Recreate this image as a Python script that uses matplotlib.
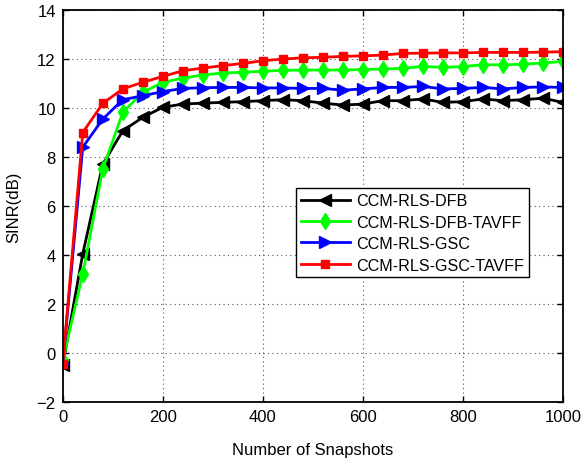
import numpy as np
import matplotlib
matplotlib.use("Agg")
from matplotlib import pyplot as plt

plt.rcParams['font.family'] = ['Liberation Sans', 'DejaVu Sans']

# snapshots where markers are drawn
snapshots = np.arange(0, 1001, 40)

sinr_dfb = [-0.5, 4.05, 7.7, 9.07, 9.62, 10.03, 10.16, 10.2, 10.23, 10.26, 10.3, 10.34, 10.3,
            10.2, 10.12, 10.16, 10.3, 10.3, 10.37, 10.23, 10.26, 10.37, 10.3, 10.34, 10.4, 10.23]
sinr_dfb_tavff = [-0.3, 3.22, 7.51, 9.82, 10.64, 11.05, 11.22, 11.35, 11.43, 11.46, 11.5, 11.54, 11.55,
                  11.55, 11.55, 11.57, 11.59, 11.62, 11.7, 11.66, 11.69, 11.77, 11.76, 11.79, 11.84, 11.9]
sinr_gsc = [-0.45, 8.4, 9.55, 10.34, 10.5, 10.67, 10.8, 10.83, 10.84, 10.84, 10.82, 10.82, 10.8,
            10.8, 10.73, 10.78, 10.84, 10.84, 10.88, 10.78, 10.8, 10.84, 10.78, 10.84, 10.86, 10.84]
sinr_gsc_tavff = [-0.45, 9.0, 10.19, 10.78, 11.05, 11.29, 11.52, 11.63, 11.73, 11.82, 11.93, 12.0, 12.05,
                  12.07, 12.11, 12.13, 12.16, 12.23, 12.24, 12.25, 12.25, 12.27, 12.27, 12.27, 12.28, 12.3]

fig = plt.figure(figsize=(5.81, 4.6), dpi=100)
ax = fig.add_axes([0.108, 0.124, 0.861, 0.852])

ax.plot(snapshots, sinr_dfb, color='black', marker='<', markersize=8, linewidth=2, label='CCM-RLS-DFB')
ax.plot(snapshots, sinr_dfb_tavff, color='#00ff00', marker='d', markersize=8, linewidth=2, label='CCM-RLS-DFB-TAVFF')
ax.plot(snapshots, sinr_gsc, color='blue', marker='>', markersize=8, linewidth=2, label='CCM-RLS-GSC')
ax.plot(snapshots, sinr_gsc_tavff, color='red', marker='s', markersize=6, linewidth=2, label='CCM-RLS-GSC-TAVFF')

ax.set_xlim(0, 1000)
ax.set_ylim(-2, 14)
ax.set_xticks(np.arange(0, 1001, 200))
ax.set_yticks(np.arange(-2, 15, 2))
ax.grid(True, linestyle=(0, (1, 3)), color='#555555', linewidth=0.8)
for s in ax.spines.values():
    s.set_linewidth(1.3)
ax.tick_params(direction='in', top=True, right=True, labelsize=12, length=4, width=1, pad=5)
ax.set_xlabel('Number of Snapshots', fontsize=12, labelpad=13)
ax.set_ylabel('SINR(dB)', fontsize=12, labelpad=11)

leg = ax.legend(loc='upper left', bbox_to_anchor=(0.467, 0.545), fontsize=11.6,
                fancybox=False, edgecolor='black', framealpha=1, handlelength=3.0,
                borderaxespad=0, labelspacing=0.4, borderpad=0.3, handletextpad=0.4)
leg.get_frame().set_linewidth(1)

fig.savefig('out.png', dpi=100)
